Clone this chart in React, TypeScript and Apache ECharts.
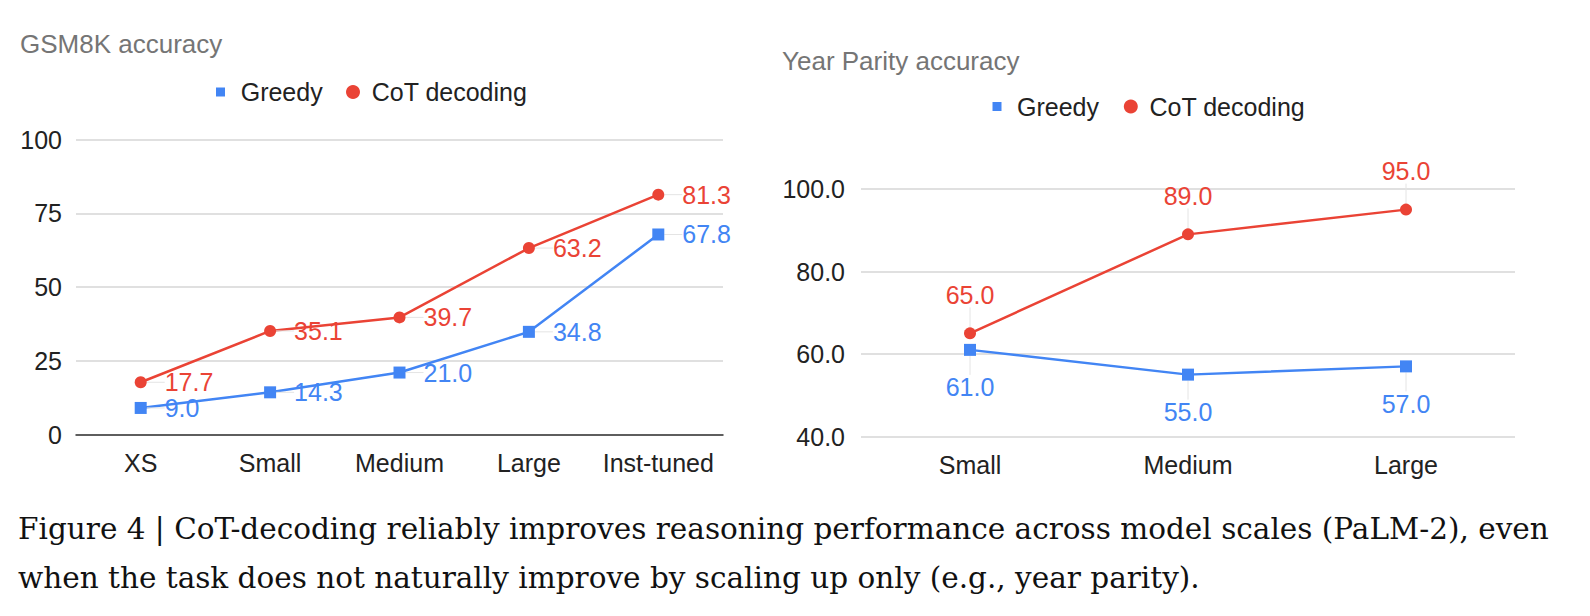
import React, { useEffect, useRef } from 'react';
import * as echarts from 'echarts';

const gsmTitle = 'GSM8K accuracy';
const parityTitle = 'Year Parity accuracy';
const seriesNames = ['Greedy', 'CoT decoding'];

const gsmCategories = ['XS', 'Small', 'Medium', 'Large', 'Inst-tuned'];
const gsmGreedy = [9.0, 14.3, 21.0, 34.8, 67.8];
const gsmCot = [17.7, 35.1, 39.7, 63.2, 81.3];

const parityCategories = ['Small', 'Medium', 'Large'];
const parityGreedy = [61.0, 55.0, 57.0];
const parityCot = [65.0, 89.0, 95.0];

const captionLines = [
  'Figure 4 | CoT-decoding reliably improves reasoning performance across model scales (PaLM-2), even',
  'when the task does not naturally improve by scaling up only (e.g., year parity).',
];

const BLUE = '#4285F4';
const RED = '#EA4335';
const SANS = '"Liberation Sans", Arial, sans-serif';
const SERIF = '"DejaVu Serif", "Liberation Serif", serif';
const FS = 25;

const fmt1 = (p: any) => Number(p.value).toFixed(1);

export default function App() {
  const ref = useRef<HTMLDivElement>(null);

  useEffect(() => {
    if (!ref.current) return;
    const chart = echarts.init(ref.current, undefined, { renderer: 'svg' });

    const legendItem = (name: string, icon: string, size: number, left: number, top: number, gap: number) => ({
      orient: 'horizontal',
      padding: 0,
      selectedMode: false,
      data: [{ name, icon }],
      left,
      top,
      itemWidth: size,
      itemHeight: size,
      textStyle: { fontSize: FS, color: '#222', fontFamily: SANS, padding: [0, 0, 0, gap] },
    });

    const rightLabel = (color: string) => ({
      show: true,
      position: 'right',
      distance: 6,
      formatter: fmt1,
      fontSize: FS,
      color,
      fontFamily: SANS,
    });

    const option: any = {
      animation: false,
      backgroundColor: '#ffffff',
      textStyle: { fontFamily: SANS },
      title: [
        {
          text: gsmTitle,
          left: 20,
          top: 31,
          padding: 0,
          textStyle: { fontSize: 26, color: '#757575', fontWeight: 'normal', fontFamily: SANS },
        },
        {
          text: parityTitle,
          left: 782,
          top: 47.5,
          padding: 0,
          textStyle: { fontSize: 26, color: '#757575', fontWeight: 'normal', fontFamily: SANS },
        },
      ],
      legend: [
        legendItem(seriesNames[0], 'rect', 9, 216, 79.5, 10.7),
        legendItem(seriesNames[1], 'circle', 14, 346, 79.5, 6.7),
        legendItem(seriesNames[0], 'rect', 9, 992.5, 94, 10.5),
        legendItem(seriesNames[1], 'circle', 14, 1123.8, 94, 6.7),
      ],
      grid: [
        { left: 76, top: 139.5, width: 647, height: 295, containLabel: false },
        { left: 861, top: 189, width: 654, height: 247.5, containLabel: false },
      ],
      xAxis: [
        {
          type: 'category',
          gridIndex: 0,
          data: gsmCategories,
          axisTick: { show: false },
          axisLine: { show: true, lineStyle: { color: '#333', width: 1.5 } },
          axisLabel: { fontSize: FS, color: '#222', margin: 16, fontFamily: SANS, interval: 0 },
        },
        {
          type: 'category',
          gridIndex: 1,
          data: parityCategories,
          axisTick: { show: false },
          axisLine: { show: false },
          axisLabel: { fontSize: FS, color: '#222', margin: 16, fontFamily: SANS, interval: 0 },
        },
      ],
      yAxis: [
        {
          type: 'value',
          gridIndex: 0,
          min: 0,
          max: 100,
          interval: 25,
          axisLine: { show: false },
          axisTick: { show: false },
          splitLine: { show: true, lineStyle: { color: '#d6d6d6', width: 1.5 } },
          axisLabel: { fontSize: FS, color: '#222', margin: 14, fontFamily: SANS },
        },
        {
          type: 'value',
          gridIndex: 1,
          min: 40,
          max: 100,
          interval: 20,
          axisLine: { show: false },
          axisTick: { show: false },
          splitLine: { show: true, lineStyle: { color: '#d6d6d6', width: 1.5 } },
          axisLabel: {
            fontSize: FS,
            color: '#222',
            margin: 16,
            fontFamily: SANS,
            formatter: (v: number) => v.toFixed(1),
          },
        },
      ],
      series: [
        {
          name: seriesNames[0],
          type: 'line',
          xAxisIndex: 0,
          yAxisIndex: 0,
          data: gsmGreedy,
          symbol: 'rect',
          symbolSize: 12,
          itemStyle: { color: BLUE },
          lineStyle: { color: BLUE, width: 2.5 },
          label: rightLabel(BLUE),
          labelLayout: { dx: 12 },
          labelLine: { show: true, lineStyle: { color: '#e4e4e4', width: 1 } },
          z: 3,
        },
        {
          name: seriesNames[1],
          type: 'line',
          xAxisIndex: 0,
          yAxisIndex: 0,
          data: gsmCot,
          symbol: 'circle',
          symbolSize: 12,
          itemStyle: { color: RED },
          lineStyle: { color: RED, width: 2.5 },
          label: rightLabel(RED),
          labelLayout: { dx: 12 },
          labelLine: { show: true, lineStyle: { color: '#e4e4e4', width: 1 } },
          z: 4,
        },
        {
          name: seriesNames[0],
          type: 'line',
          xAxisIndex: 1,
          yAxisIndex: 1,
          data: parityGreedy,
          symbol: 'rect',
          symbolSize: 12,
          itemStyle: { color: BLUE },
          lineStyle: { color: BLUE, width: 2.5 },
          label: {
            show: true,
            position: 'bottom',
            distance: 6,
            formatter: fmt1,
            fontSize: FS,
            color: BLUE,
            fontFamily: SANS,
          },
          labelLayout: { dy: 13 },
          labelLine: { show: true, lineStyle: { color: '#e4e4e4', width: 1 } },
          z: 3,
        },
        {
          name: seriesNames[1],
          type: 'line',
          xAxisIndex: 1,
          yAxisIndex: 1,
          data: parityCot,
          symbol: 'circle',
          symbolSize: 12,
          itemStyle: { color: RED },
          lineStyle: { color: RED, width: 2.5 },
          label: {
            show: true,
            position: 'top',
            distance: 6,
            formatter: fmt1,
            fontSize: FS,
            color: RED,
            fontFamily: SANS,
          },
          labelLayout: { dy: -14 },
          labelLine: { show: true, lineStyle: { color: '#e4e4e4', width: 1 } },
          z: 4,
        },
      ],
      graphic: captionLines.map((t, i) => ({
        type: 'text',
        left: 18,
        top: 528.5 + i * 49.5 - 15,
        style: {
          text: t,
          fontSize: 29.5,
          fontFamily: SERIF,
          fill: '#111',
        },
      })),
    };

    chart.setOption(option);
    return () => chart.dispose();
  }, []);

  return (
    <div
      ref={ref}
      style={{ position: 'fixed', left: 0, top: 0, width: 1590, height: 616, background: '#fff' }}
    />
  );
}
